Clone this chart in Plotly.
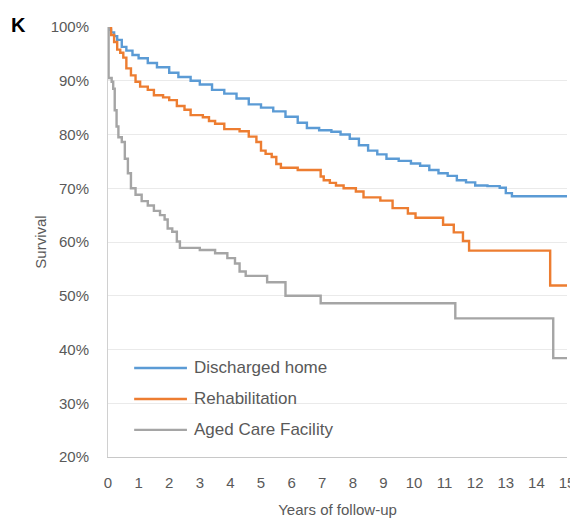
import plotly.graph_objects as go

# ---- data ----
series_names = ["Discharged home", "Rehabilitation", "Aged Care Facility"]
series_colors = ["#5B9BD5", "#ED7D31", "#A5A5A5"]

home_t = [0, 0.05, 0.1, 0.2, 0.3, 0.45, 0.6, 0.8, 1.0, 1.3, 1.6, 2.0, 2.3, 2.7, 3.0, 3.4,
          3.8, 4.2, 4.6, 5.0, 5.4, 5.8, 6.2, 6.5, 6.9, 7.3, 7.6, 7.9, 8.2, 8.5, 8.8, 9.1,
          9.5, 9.9, 10.2, 10.5, 10.8, 11.1, 11.4, 11.7, 12.0, 12.4, 12.8, 13.0, 13.2, 15.0]
home_s = [100, 99.5, 99.0, 98.3, 97.6, 96.3, 95.6, 94.8, 94.2, 93.3, 92.5, 91.5, 90.7, 90.0,
          89.3, 88.3, 87.6, 86.7, 85.6, 85.0, 84.3, 83.3, 82.2, 81.2, 80.8, 80.5, 80.0, 79.2,
          78.0, 77.0, 76.3, 75.5, 75.1, 74.6, 74.2, 73.4, 72.8, 72.3, 71.5, 71.1, 70.5, 70.4,
          70.1, 69.1, 68.5, 68.5]

rehab_t = [0, 0.1, 0.2, 0.3, 0.4, 0.5, 0.6, 0.75, 0.9, 1.05, 1.3, 1.5, 1.8, 2.0, 2.25, 2.5,
           2.7, 3.1, 3.3, 3.5, 3.8, 4.3, 4.6, 4.85, 5.0, 5.15, 5.35, 5.5, 5.65, 6.2, 6.95,
           7.05, 7.25, 7.45, 7.7, 8.1, 8.35, 8.9, 9.3, 9.8, 10.05, 10.95, 11.3, 11.6, 11.8,
           14.45, 15.0]
rehab_s = [100, 98.5, 97.2, 95.8, 95.2, 94.3, 92.3, 91.0, 89.8, 88.9, 88.3, 87.3, 86.9, 86.4,
           85.3, 84.6, 83.6, 83.2, 82.5, 82.0, 81.0, 80.6, 79.6, 78.6, 77.0, 76.4, 75.8, 74.5,
           73.8, 73.4, 72.2, 71.5, 71.0, 70.5, 70.0, 69.4, 68.3, 67.7, 66.3, 65.3, 64.5, 63.2,
           61.8, 60.2, 58.4, 51.9, 51.9]

aged_t = [0, 0.02, 0.12, 0.17, 0.22, 0.28, 0.34, 0.45, 0.55, 0.65, 0.75, 0.9, 1.1, 1.3, 1.5,
          1.7, 1.85, 1.95, 2.1, 2.25, 2.35, 2.7, 3.0, 3.5, 3.9, 4.15, 4.3, 4.5, 5.2, 5.8,
          6.95, 11.35, 14.55, 15.0]
aged_s = [100, 90.5, 89.8, 88.5, 84.5, 81.5, 79.5, 78.6, 75.5, 72.8, 70.0, 68.8, 67.6, 66.8,
          65.8, 65.0, 64.2, 62.5, 61.9, 60.1, 58.9, 58.9, 58.5, 57.9, 57.0, 56.0, 54.5, 53.7,
          52.5, 50.0, 48.6, 45.8, 38.4, 38.4]

x_ticks = list(range(0, 16))
y_ticks = [20, 30, 40, 50, 60, 70, 80, 90, 100]
y_tick_labels = ["20%", "30%", "40%", "50%", "60%", "70%", "80%", "90%", "100%"]

FONT = "Liberation Sans, Arial, sans-serif"
GREY_TXT = "#595959"

fig = go.Figure()
for t, s, name, col in zip([home_t, rehab_t, aged_t], [home_s, rehab_s, aged_s],
                           series_names, series_colors):
    fig.add_trace(go.Scatter(x=t, y=s, mode="lines", name=name, line_shape="hv",
                             line=dict(color=col, width=2.4), showlegend=False))

# the page body has an 8px margin, so the figure is offset by 8px
fig.update_layout(
    width=570, height=513,
    margin=dict(l=100, r=11, t=19, b=64, autoexpand=False),
    paper_bgcolor="white", plot_bgcolor="white",
    font=dict(family=FONT, color=GREY_TXT, size=15),
    xaxis=dict(range=[0, 15], tickvals=x_ticks, showgrid=False, zeroline=False,
               automargin=False,
               showline=True, linecolor="#C8C8C8", linewidth=1, ticks="",
               ticklabelstandoff=12, tickfont=dict(size=15, color=GREY_TXT),
               title=dict(text="Years of follow-up", standoff=14,
                          font=dict(size=15, color=GREY_TXT))),
    yaxis=dict(range=[20, 100], tickvals=y_ticks, ticktext=y_tick_labels, showgrid=True,
               automargin=False,
               gridcolor="#EAEAEA", gridwidth=1, zeroline=False,
               showline=True, linecolor="#D0D0D0", linewidth=1, ticks="",
               ticklabelstandoff=15, tickfont=dict(size=15, color=GREY_TXT),
               title=dict(text="Survival", standoff=0,
                          font=dict(size=15, color=GREY_TXT))),
)

# panel letter
fig.add_annotation(text="<b>K</b>", xref="paper", yref="paper", x=-0.196, y=1.005,
                   xanchor="center", yanchor="middle", showarrow=False,
                   font=dict(size=20, color="black", family=FONT))

# legend box (white background hiding gridlines) and entries
fig.add_shape(type="rect", xref="paper", yref="paper", x0=0.003, x1=0.523,
              y0=0.015, y1=0.238, fillcolor="white", line=dict(width=0), layer="between")
leg_y = [0.207, 0.135, 0.063]
for name, col, yy in zip(series_names, series_colors, leg_y):
    fig.add_shape(type="line", xref="paper", yref="paper", x0=0.057, x1=0.172,
                  y0=yy, y1=yy, line=dict(color=col, width=2.4), layer="above")
    fig.add_annotation(text=name, xref="paper", yref="paper", x=0.183, y=yy,
                       xanchor="left", yanchor="middle", showarrow=False,
                       font=dict(size=17, color=GREY_TXT, family=FONT))

fig.write_html("out.html")
